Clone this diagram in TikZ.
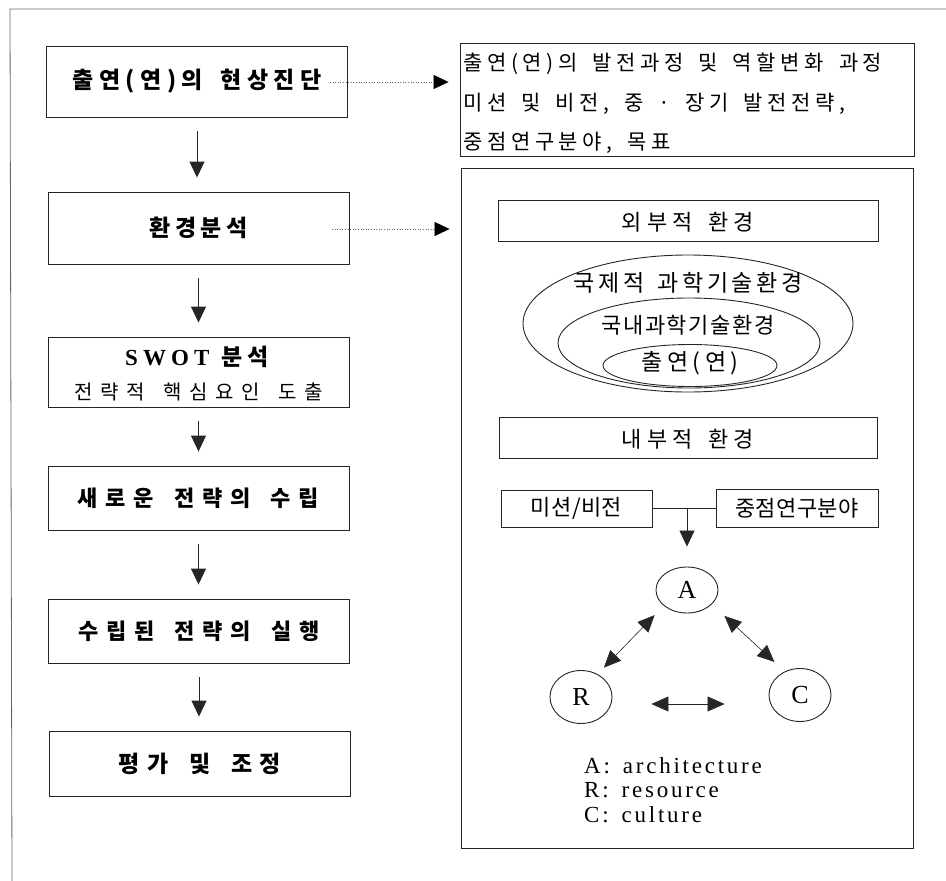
\documentclass[tikz,border=0pt]{standalone}
\usepackage{fontspec}
\setmainfont{Liberation Serif}
\newfontfamily\kr[WordSpace=1.6]{Noto Sans CJK KR}
\newfontfamily\lat{Liberation Serif}
\usetikzlibrary{arrows.meta,shapes.geometric}
\begin{document}
\begin{tikzpicture}[x=1pt,y=-1pt,
  ln/.style={draw=black!85, line width=0.9pt},
  frame/.style={draw=black!60, line width=0.8pt},
  tip/.style={-{Triangle[length=16pt,width=15pt]}},
  btip/.style={{Triangle[length=17pt,width=15pt]}-{Triangle[length=17pt,width=15pt]}},
  dotline/.style={draw=black!60, line width=0.6pt, dotted, -{Triangle[length=15pt,width=14pt,color=black]}},
  lbox/.style={ln, minimum width=301pt, inner sep=0pt, align=center},
  lfont/.style 2 args={font={\kr\bfseries\fontsize{#1}{#1}\selectfont\addfontfeature{LetterSpace=#2}}},
  kfont/.style 2 args={font={\kr\fontsize{#1}{#1}\selectfont\addfontfeature{LetterSpace=#2}}},
  rbox/.style={ln, inner sep=0pt},
  kt/.style={inner sep=0pt},
  circ/.style={ln, ellipse, inner sep=0pt, minimum width=62pt, font=\lat\fontsize{26}{30}\selectfont},
  leg/.style={inner sep=0pt, anchor=base west, font={\lat\fontsize{23}{26}\selectfont\addfontfeature{LetterSpace=12}}}
]
\useasboundingbox (0,0) rectangle (946,881);
% outer frame (top and left only)
\coordinate (ftl) at (10,9);
\coordinate (ftr) at (946,9);
\coordinate (fbl) at (12,881);
\draw[frame] (ftr) -- (ftl) -- (fbl);

% left column
\node[lbox, lfont={23}{24}, minimum height=71pt] (b1) at (197,81.5) {출연(연)의 현상진단};
\node[lbox, lfont={23}{19}, minimum height=72pt] (b2) at (198.5,228) {환경분석};
\node[lbox, minimum height=70pt] (b3) at (198.5,372) {};
\node[kt, font={\lat\bfseries\fontsize{23}{26}\selectfont\addfontfeature{LetterSpace=22}}] (b3a) at (197,357) {SWOT\hspace{12pt}{\kr\bfseries\addfontfeature{LetterSpace=22}분석}};
\node[kt, kfont={20}{37}] (b3b) at (199,392) {전략적 핵심요인 도출};
\node[lbox, lfont={22}{35}, minimum height=64pt] (b4) at (198.5,498) {새로운 전략의 수립};
\node[lbox, lfont={22}{35}, minimum height=64pt] (b5) at (199,631) {수립된 전략의 실행};
\node[lbox, lfont={23}{33}, minimum height=65pt] (b6) at (200,763.5) {평가 및 조정};

\foreach \a/\b in {b1/b2,b2/b3,b3/b4,b4/b5,b5/b6}
  \draw[ln, tip, shorten <=14pt, shorten >=14pt] (\a.south) -- (\a.south |- \b.north);

% right top box
\node[rbox, minimum width=454pt, minimum height=113pt] (rt) at (687,99.5) {};
\node[kt, kfont={21}{22}, anchor=west] (rt1) at (463,64) {출연(연)의 발전과정 및 역할변화 과정};
\node[kt, kfont={21}{22}, anchor=west] (rt2) at (463,104) {미션 및 비전, 중 · 장기 발전전략,};
\node[kt, kfont={21}{22}, anchor=west] (rt3) at (463,143) {중점연구분야, 목표};

% right big box
\node[rbox, minimum width=452pt, minimum height=680pt] (rb) at (687,508) {};

% dotted connectors
\coordinate (d1) at (330,82);
\coordinate (d2) at (332,229);
\draw[dotline, shorten >=11pt] (d1) -- (d1 -| rt.west);
\draw[dotline, shorten >=11pt] (d2) -- (d2 -| rb.west);

% external environment
\node[rbox, minimum width=380pt, minimum height=41pt] (ext) at (688,220.5) {};
\node[kt, kfont={22}{23}] (extt) at (688,222) {외부적 환경};

\node[ln, ellipse, inner sep=0pt, minimum width=330pt, minimum height=137pt] (e1) at (688,323.5) {};
\node[ln, ellipse, inner sep=0pt, minimum width=262pt, minimum height=90pt] (e2) at (689,343) {};
\node[ln, ellipse, inner sep=0pt, minimum width=174pt, minimum height=42pt] (e3) at (690,365.5) {};
\node[kt, kfont={23}{15}] (t1) at (688,283) {국제적 과학기술환경};
\node[kt, kfont={22}{7}] (t2) at (688,325) {국내과학기술환경};
\node[kt, kfont={23}{20}] (t3) at (690,363) {출연(연)};

% internal environment
\node[rbox, minimum width=378pt, minimum height=41pt] (int) at (688,437.5) {};
\node[kt, kfont={22}{23}] (intt) at (688,439) {내부적 환경};

\node[rbox, minimum width=151pt, minimum height=37pt, kfont={22}{2}] (mis) at (576.5,508.5) {미션/비전};
\node[rbox, minimum width=162pt, minimum height=38pt, kfont={22}{2}] (foc) at (797,508) {중점연구분야};
\draw[ln, line width=0.7pt] (mis.east) -- (mis.east -| foc.west);
\coordinate (jn) at (687,508);

% ARC
\node[circ, minimum height=46pt] (A) at (687,590) {A};
\node[circ, minimum height=53pt] (R) at (581,697) {R};
\node[circ, minimum height=53pt] (C) at (800,695) {C};
\draw[ln, line width=0.7pt, tip, shorten >=20pt] (jn) -- (jn |- A.north);

\draw[ln, line width=0.6pt, btip, shorten <=13pt, shorten >=9pt] (A.214) -- (R.54);
\draw[ln, line width=0.6pt, btip, shorten <=17pt, shorten >=14pt] (A.-30) -- (C.123);
\draw[ln, line width=0.6pt, btip, shorten <=39pt, shorten >=44pt] ([yshift=-7pt]R.east) -- ([yshift=-7pt]R.east -| C.west);

% legend
\node[leg] (l1) at (584,773) {A:\hspace{13pt}architecture};
\node[leg] (l2) at (584,797) {R:\hspace{13pt}resource};
\node[leg] (l3) at (584,822) {C:\hspace{13pt}culture};
\end{tikzpicture}
\end{document}
